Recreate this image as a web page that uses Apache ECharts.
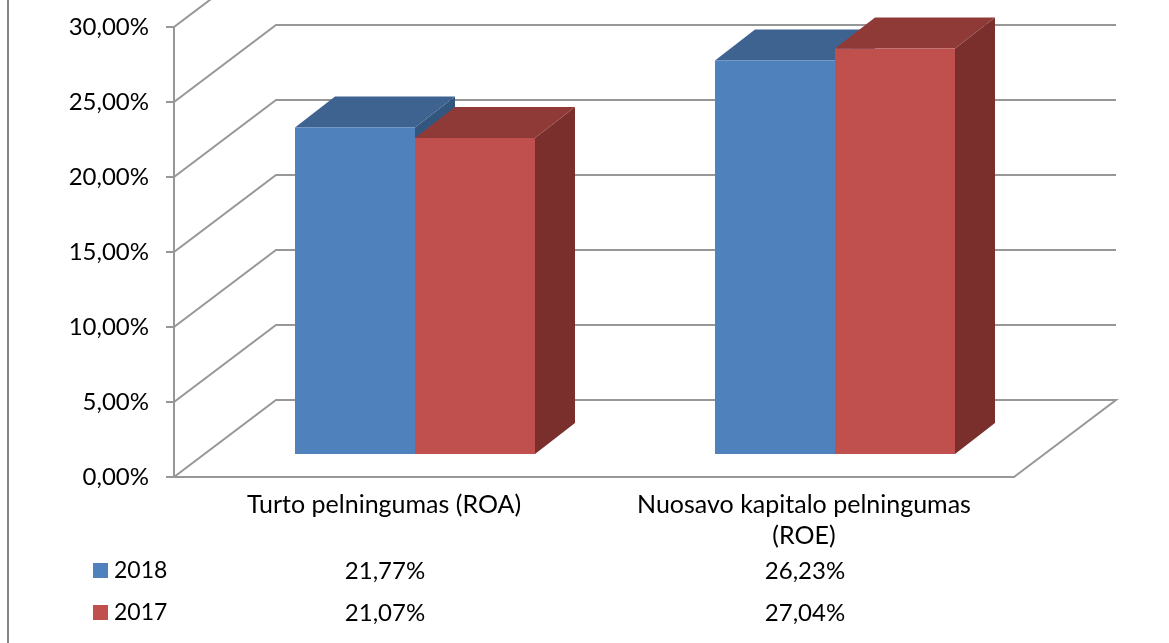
<!DOCTYPE html>
<html>
<head>
<meta charset="utf-8">
<style>html,body{margin:0;padding:0;background:#fff}#c{width:1169px;height:643px}</style>
<script src="https://cdn.jsdelivr.net/npm/echarts@6/dist/echarts.min.js"></script>
</head>
<body>
<div id="c"></div>
<script>
const categories = ['Turto pelningumas (ROA)', 'Nuosavo kapitalo pelningumas\n(ROE)'];
const seriesNames = ['2018', '2017'];
const values2018 = [21.77, 26.23];
const values2017 = [21.07, 27.04];
const yTicks = [0, 5, 10, 15, 20, 25, 30];

const FONT = 'Lato';
const FS = 24;
const FS_CAT = 25;
const LINE = '#979797';
const WALL_DX = 102, WALL_DY = -77;
const BAR_SHIFT_X = 31, BAR_SHIFT_Y = -23, BAR_DX = 40, BAR_DY = -31;
const TABLE_ROW_Y = [94, 136];
const palette = [
  {front:'#4F81BD', top:'#3E6390', side:'#33567F'},
  {front:'#C0504D', top:'#903A38', side:'#7B2F2D'}
];
const fmt = v => v.toFixed(2).replace('.', ',') + '%';

function wallItem(params, api) {
  const cs = params.coordSys;
  const val = api.value(1);
  const y = api.coord([0, val])[1];
  const right = cs.x + cs.width;
  const pts = [[cs.x, y], [cs.x + WALL_DX, y + WALL_DY], [right + WALL_DX, y + WALL_DY]];
  if (val === 0) pts.push([right, y]);
  return {type:'polyline', shape:{points:pts}, style:{fill:null, stroke:LINE, lineWidth:2}};
}

function barItem(idx) {
  return function (params, api) {
    const cs = params.coordSys;
    const catI = api.value(0), val = api.value(1);
    const w = api.size([1, 0])[0] * 2 / 7;
    const base = api.coord([catI, 0]);
    const topP = api.coord([catI, val]);
    const x0 = base[0] + BAR_SHIFT_X + (idx === 0 ? -w : 0);
    const x1 = x0 + w;
    const yb = base[1] + BAR_SHIFT_Y;
    const yt = topP[1] + BAR_SHIFT_Y;
    const c = palette[idx];
    return {type:'group', children:[
      {type:'polygon', shape:{points:[[x1,yb],[x1+BAR_DX,yb+BAR_DY],[x1+BAR_DX,yt+BAR_DY],[x1,yt]]}, style:{fill:c.side}},
      {type:'polygon', shape:{points:[[x0,yt],[x0+BAR_DX,yt+BAR_DY],[x1+BAR_DX,yt+BAR_DY],[x1,yt]]}, style:{fill:c.top}},
      {type:'rect', shape:{x:x0, y:yt, width:w, height:yb-yt}, style:{fill:c.front}},
      {type:'text', style:{text:fmt(val), x:base[0]+1, y:cs.y+cs.height+TABLE_ROW_Y[idx], align:'center', verticalAlign:'middle',
        fontFamily:FONT, fontSize:FS, fill:'#000'}}
    ]};
  };
}

const chart = echarts.init(document.getElementById('c'), null, {renderer:'canvas'});
chart.setOption({
  animation:false,
  backgroundColor:'#fff',
  grid:{left:174, top:27, width:840, height:450, containLabel:false},
  legend:{
    orient:'vertical', left:93, top:559, itemWidth:15, itemHeight:15, itemGap:19, icon:'rect',
    data:seriesNames, textStyle:{fontFamily:FONT, fontSize:23, color:'#000', padding:[0,0,0,1]}, padding:0
  },
  xAxis:{
    type:'category', data:categories, boundaryGap:true,
    axisLine:{show:true, lineStyle:{color:LINE, width:2}},
    axisTick:{show:false},
    axisLabel:{interval:0, fontFamily:FONT, fontSize:FS_CAT, color:'#000', lineHeight:31, margin:12}
  },
  yAxis:{
    type:'value', min:0, max:30, interval:5,
    axisLine:{show:true, lineStyle:{color:LINE, width:2}},
    axisTick:{show:true, length:8, lineStyle:{color:LINE, width:2}},
    splitLine:{show:false},
    axisLabel:{formatter:fmt, fontFamily:FONT, fontSize:FS, color:'#000', margin:25, padding:[2,0,0,0], customValues:yTicks}
  },
  graphic:[{type:'line', shape:{x1:8, y1:0, x2:8, y2:643}, style:{stroke:'#868686', lineWidth:2}}],
  series:[
    {type:'custom', name:'wall', silent:true, z:1, renderItem:wallItem, data:yTicks.map(v => [0, v]), encode:{x:0, y:1}},
    {type:'custom', name:seriesNames[0], z:2, renderItem:barItem(0), itemStyle:{color:palette[0].front},
      data:values2018.map((v,i) => [i, v]), encode:{x:0, y:1}},
    {type:'custom', name:seriesNames[1], z:3, renderItem:barItem(1), itemStyle:{color:palette[1].front},
      data:values2017.map((v,i) => [i, v]), encode:{x:0, y:1}}
  ]
});
</script>
</body>
</html>
